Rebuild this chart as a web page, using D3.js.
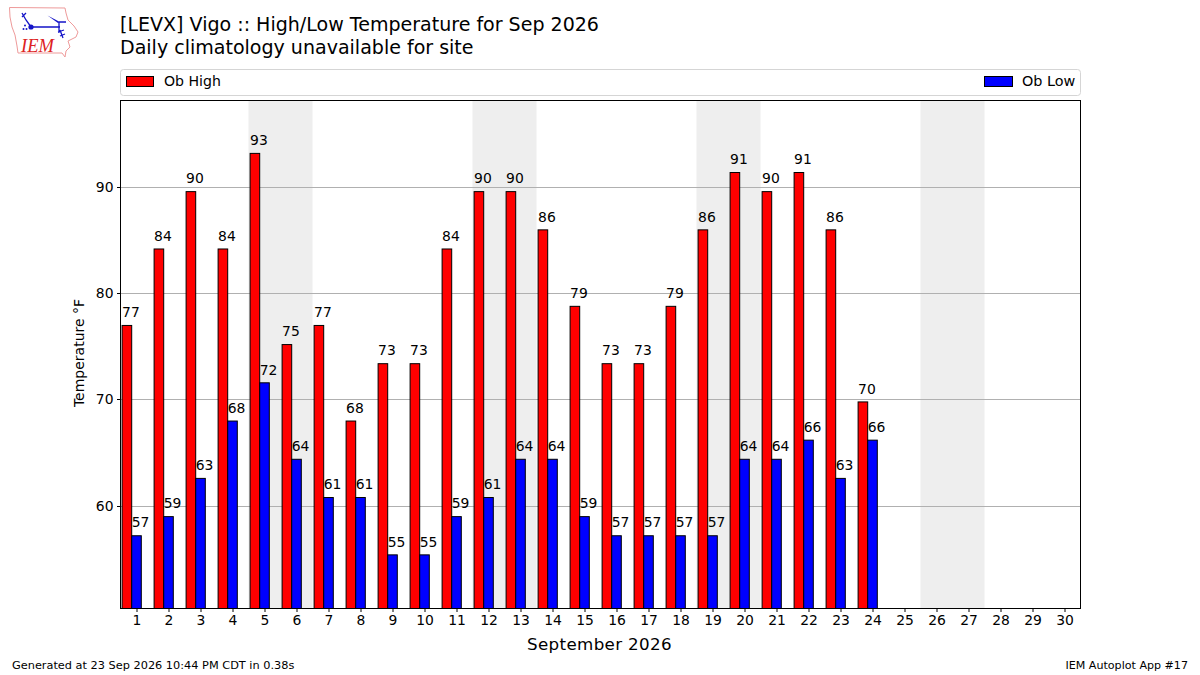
<!DOCTYPE html>
<html><head><meta charset="utf-8">
<script src="https://d3js.org/d3.v7.min.js"></script>
<style>html,body{margin:0;padding:0;background:#fff}svg{display:block}text{font-family:"DejaVu Sans",sans-serif;fill:#000}</style>
</head><body><svg id="c" width="1200" height="675"></svg>
<script>
const days = d3.range(1, 31);
const highDays = d3.range(1, 25);
const obHigh = [77, 84.2, 89.6, 84.2, 93.2, 75.2, 77, 68, 73.4, 73.4, 84.2, 89.6, 89.6, 86, 78.8, 73.4, 73.4, 78.8, 86, 91.4, 89.6, 91.4, 86, 69.8];
const obLow = [57.2, 59, 62.6, 68, 71.6, 64.4, 60.8, 60.8, 55.4, 55.4, 59, 60.8, 64.4, 64.4, 59, 57.2, 57.2, 57.2, 57.2, 64.4, 64.4, 66.2, 62.6, 66.2];
const weekendStarts = [5, 12, 19, 26];
const yTicks = [60, 70, 80, 90];
const titleLines = ["[LEVX] Vigo :: High/Low Temperature for Sep 2026", "Daily climatology unavailable for site"];

const svg = d3.select("#c");
const L = 120.5, R = 1080.5, T = 100.5, B = 608.5;
const x = d3.scaleLinear().domain([0.5, 30.5]).range([L, R]);
const y = d3.scaleLinear().domain([50.35, 98.18]).range([B, T]);
const bw = 0.3;
const snapY = v => Math.floor(y(v)) + .5;

// logo
const logo = svg.append("g");
logo.append("path").attr("d","M9.5,7.5 L65,8 L66,13 L68,20 L74,26 L78,32 L76,37 L68,41 L70,47 L66,51 L65,57 L62,53 L18,53 L17,46 L15,35 L12,27 L10,17 Z")
  .attr("fill","none").attr("stroke","#ee9a9a").attr("stroke-width",1);
logo.append("path").attr("d","M31,27 L60,27 M59,22 L59,33 M58,22 L66,22 M22,13 L26,20 L31,27 M22,17 L26,13 M60,30 L63,38 M58,32 L64,30 M60,36 L65,34")
  .attr("fill","none").attr("stroke","#1414c8").attr("stroke-width",1.3);
logo.append("path").attr("d","M47.5,15.5 L58,21 L58,23 Z").attr("fill","#1414c8");
logo.append("circle").attr("cx",31).attr("cy",27).attr("r",2.6).attr("fill","#1414c8");
logo.selectAll(".dot").data([[25,25.5],[23.5,29],[26.5,29]]).join("circle").attr("class","dot").attr("cx",d=>d[0]).attr("cy",d=>d[1]).attr("r",1).attr("fill","#1414c8");
logo.append("text").attr("x",21).attr("y",52).attr("font-size",18.5).style("font-family","Liberation Serif").style("font-style","italic").style("fill","#d22").text("IEM");

// titles
svg.selectAll(".ttl").data(titleLines).join("text").attr("class","ttl")
  .attr("x",120).attr("y",(d,i)=>31+i*23).attr("font-size",19.05).text(d=>d);

// legend
svg.append("rect").attr("x",120.5).attr("y",69.5).attr("width",960).attr("height",26).attr("rx",3)
  .attr("fill","#fff").attr("stroke","#d5d5d5");
svg.append("rect").attr("x",126.5).attr("y",76.5).attr("width",27).attr("height",10).attr("fill","red").attr("stroke","#000");
svg.append("text").attr("x",164).attr("y",86).attr("font-size",14.1).text("Ob High");
svg.append("rect").attr("x",984.5).attr("y",76.5).attr("width",28).attr("height",10).attr("fill","blue").attr("stroke","#000");
svg.append("text").attr("x",1022).attr("y",86).attr("font-size",14.4).text("Ob Low");

// weekend spans
svg.selectAll(".wk").data(weekendStarts).join("rect").attr("class","wk")
  .attr("x",d=>x(d-0.5)).attr("width",d=>x(d+1.5)-x(d-0.5)).attr("y",T).attr("height",B-T).attr("fill","#eeeeee");

// grid
svg.selectAll(".gr").data(yTicks).join("line").attr("class","gr")
  .attr("x1",L).attr("x2",R).attr("y1",d=>snapY(d)).attr("y2",d=>snapY(d)).attr("stroke","#b0b0b0").attr("stroke-width",1);

// bars
svg.selectAll(".hi").data(obHigh).join("rect").attr("class","hi")
  .attr("x",(d,i)=>x(highDays[i]-0.45)).attr("width",x(bw)-x(0)).attr("y",d=>y(d)).attr("height",d=>B-y(d))
  .attr("fill","red").attr("stroke","#000").attr("stroke-width",1);
svg.selectAll(".lo").data(obLow).join("rect").attr("class","lo")
  .attr("x",(d,i)=>x(highDays[i]-0.15)).attr("width",x(bw)-x(0)).attr("y",d=>y(d)).attr("height",d=>B-y(d))
  .attr("fill","blue").attr("stroke","#000").attr("stroke-width",1);

// labels
svg.selectAll(".hl").data(obHigh).join("text").attr("class","hl")
  .attr("x",(d,i)=>x(highDays[i]-0.45)).attr("y",d=>y(d)-8.3).attr("font-size",13.9).text(d=>Math.round(d));
svg.selectAll(".ll").data(obLow).join("text").attr("class","ll")
  .attr("x",(d,i)=>x(highDays[i]-0.15)).attr("y",d=>y(d)-8.3).attr("font-size",13.9).text(d=>Math.round(d));

// axes
const gx = svg.append("g").attr("transform",`translate(0,${B})`).call(d3.axisBottom(x).tickValues(days).tickFormat(d3.format("d")).tickSize(3.5).tickPadding(3.5));
const gy = svg.append("g").attr("transform",`translate(${L},0)`).call(d3.axisLeft(y).tickValues(yTicks).tickSize(3.5).tickPadding(3.5));
gy.selectAll(".tick").attr("transform",d=>`translate(0,${snapY(d)})`);
[gx,gy].forEach(g=>{g.selectAll("text").attr("font-size",13.9).style("font-family","DejaVu Sans");g.select(".domain").remove();g.selectAll("line").attr("stroke","#000");});
svg.append("rect").attr("x",L).attr("y",T).attr("width",R-L).attr("height",B-T).attr("fill","none").attr("stroke","#000").attr("stroke-width",1);

svg.append("text").attr("x",599.5).attr("y",650).attr("text-anchor","middle").attr("font-size",16.7).attr("letter-spacing",0.35).text("September 2026");
svg.append("text").attr("transform","translate(84,353) rotate(-90)").attr("text-anchor","middle").attr("font-size",14).text("Temperature °F");
svg.append("text").attr("x",12).attr("y",669).attr("font-size",11.32).text("Generated at 23 Sep 2026 10:44 PM CDT in 0.38s");
svg.append("text").attr("x",1188).attr("y",669).attr("text-anchor","end").attr("font-size",11.1).text("IEM Autoplot App #17");
</script></body></html>
